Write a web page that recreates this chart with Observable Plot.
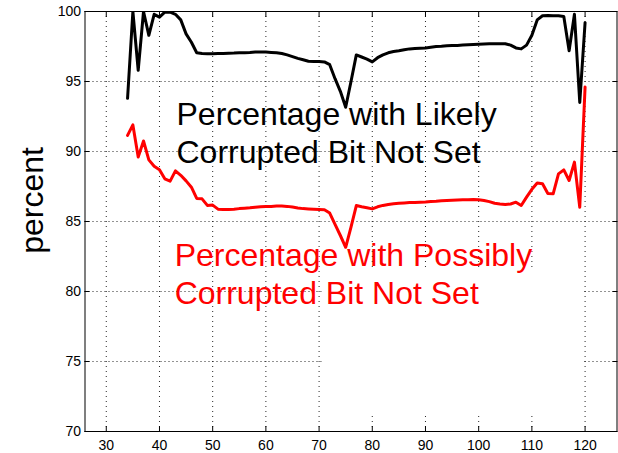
<!DOCTYPE html>
<html>
<head>
<meta charset="utf-8">
<script src="https://cdn.jsdelivr.net/npm/d3@7"></script>
<script src="https://cdn.jsdelivr.net/npm/@observablehq/plot@0.6"></script>
<style>
  html, body { margin: 0; padding: 0; background: #fff; }
</style>
</head>
<body>
<div id="chart"></div>
<script>
// Bit index (x) and the share of samples whose bit is not set, in percent.
const bitIndex = [
  34, 35, 36, 37, 38, 39, 40, 41, 42, 43, 44, 45, 46, 47, 48, 49, 50, 51, 52, 53,
  54, 55, 56, 57, 58, 59, 60, 61, 62, 63, 64, 65, 66, 67, 68, 69, 70, 71, 72, 73,
  74, 75, 76, 77, 78, 79, 80, 81, 82, 83, 84, 85, 86, 87, 88, 89, 90, 91, 92, 93,
  94, 95, 96, 97, 98, 99, 100, 101, 102, 103, 104, 105, 106, 107, 108, 109, 110, 111, 112, 113,
  114, 115, 116, 117, 118, 119, 120
];

// Likely corrupted bit not set (black)
const likelyNotSet = [
  93.8, 100, 95.8, 100, 98.3, 99.8, 99.6, 99.95, 99.95, 99.8, 99.4, 98.4, 97.8, 97.05, 97.0, 96.98, 96.98, 97.0, 97.0, 97.02,
  97.03, 97.05, 97.05, 97.07, 97.1, 97.1, 97.1, 97.08, 97.06, 97.0, 96.9, 96.78, 96.65, 96.55, 96.45, 96.43, 96.43, 96.4, 96.2, 95.2,
  94.3, 93.16, 95.0, 96.9, 96.75, 96.6, 96.4, 96.7, 96.9, 97.05, 97.14, 97.2, 97.27, 97.33, 97.36, 97.38, 97.4, 97.45, 97.5, 97.52,
  97.55, 97.57, 97.58, 97.6, 97.62, 97.64, 97.66, 97.68, 97.7, 97.7, 97.7, 97.7, 97.6, 97.4, 97.33, 97.6, 98.3, 99.4, 99.7, 99.72,
  99.7, 99.7, 99.65, 97.2, 99.8, 93.5, 99.2
];

// Possibly corrupted bit not set (red)
const possiblyNotSet = [
  91.15, 91.9, 89.6, 90.75, 89.4, 88.95, 88.7, 88.05, 87.88, 88.62, 88.3, 87.9, 87.45, 86.65, 86.62, 86.15, 86.17, 85.88, 85.86, 85.86,
  85.88, 85.92, 85.95, 85.98, 86.02, 86.05, 86.07, 86.08, 86.1, 86.1, 86.08, 86.03, 85.97, 85.92, 85.9, 85.88, 85.86, 85.84, 85.6, 84.8,
  84.0, 83.16, 84.6, 86.14, 86.05, 85.98, 85.9, 86.05, 86.15, 86.22, 86.27, 86.3, 86.33, 86.35, 86.36, 86.38, 86.4, 86.43, 86.45, 86.48,
  86.5, 86.52, 86.54, 86.55, 86.56, 86.57, 86.55, 86.5, 86.42, 86.3, 86.25, 86.22, 86.25, 86.38, 86.14, 86.74, 87.3, 87.75, 87.7, 87.0,
  86.98, 88.4, 88.69, 87.93, 89.24, 86.02, 94.6
];

const xTicks = [30, 40, 50, 60, 70, 80, 90, 100, 110, 120];
const yTicks = [70, 75, 80, 85, 90, 95, 100];

const likelyLabel = "Percentage with Likely\nCorrupted Bit Not Set";
const possiblyLabel = "Percentage with Possibly\nCorrupted Bit Not Set";
const yLabel = "percent";

// Blank (borderless) legend box that hides the grid behind it
const legendBox = [{x1: 70.6, x2: 119.6, y1: 71.1, y2: 81.5}];

const rows = bitIndex.map((x, i) => ({x, likely: likelyNotSet[i], possibly: possiblyNotSet[i]}));

const gridStyle = {stroke: "#000", strokeOpacity: 0.85, strokeWidth: 1};

const chart = Plot.plot({
  width: 618,
  height: 453,
  marginLeft: 84.5,
  marginRight: 1.5,
  marginTop: 11,
  marginBottom: 22,
  style: {fontFamily: "'Liberation Sans', Arial, Helvetica, sans-serif", background: "#fff", color: "#000"},
  x: {domain: [26, 126]},
  y: {domain: [70, 100]},
  marks: [
    Plot.gridX(xTicks, {...gridStyle, strokeDasharray: "1,4"}),
    Plot.gridY(yTicks, {...gridStyle, strokeDasharray: "1,3"}),
    Plot.rect(legendBox, {x1: "x1", x2: "x2", y1: "y1", y2: "y2", fill: "#fff"}),
    Plot.axisX({ticks: xTicks, anchor: "bottom", tickSize: -5, tickPadding: 14, fontSize: 14, label: null}),
    Plot.axisX({ticks: xTicks, anchor: "top", tickSize: -5, tickFormat: () => "", label: null}),
    Plot.axisY({ticks: yTicks, anchor: "left", tickSize: -5, tickPadding: 9, fontSize: 14, label: null}),
    Plot.axisY({ticks: yTicks, anchor: "right", tickSize: -5, tickFormat: () => "", label: null}),
    Plot.frame({stroke: "#000", strokeWidth: 1}),
    Plot.lineY(rows, {x: "x", y: "likely", stroke: "#000", strokeWidth: 3, clip: true}),
    Plot.lineY(rows, {x: "x", y: "possibly", stroke: "#ff0000", strokeWidth: 3, clip: true}),
    Plot.text([likelyLabel], {
      x: 43.2, y: 89.21, text: d => d, fill: "#000", fontSize: 32,
      textAnchor: "start", lineAnchor: "bottom", lineHeight: 1.18
    }),
    Plot.text([possiblyLabel], {
      x: 42.85, y: 79.14, text: d => d, fill: "#ff0000", fontSize: 32,
      textAnchor: "start", lineAnchor: "bottom", lineHeight: 1.18
    }),
    Plot.text([yLabel], {
      frameAnchor: "left", text: d => d, rotate: -90, fontSize: 32, fill: "#000",
      textAnchor: "middle", lineAnchor: "middle", dx: -52.2, dy: -21
    })
  ]
});

document.getElementById("chart").append(chart);
</script>
</body>
</html>
